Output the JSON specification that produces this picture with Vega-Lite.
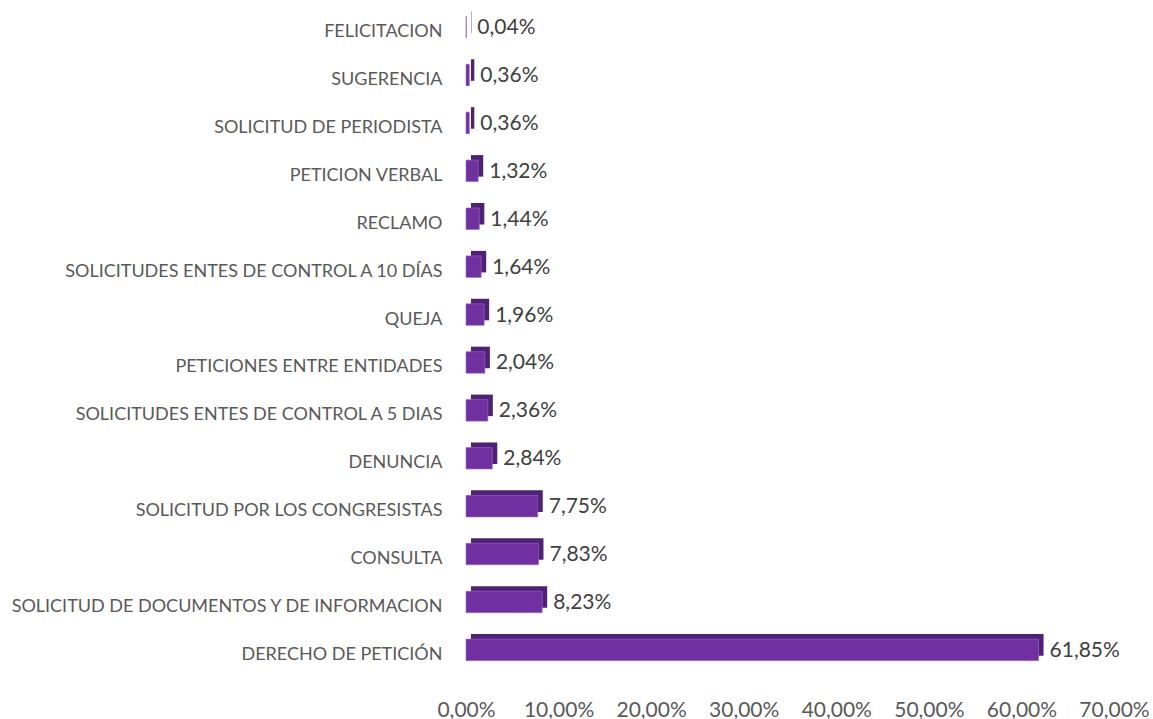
{
  "$schema": "https://vega.github.io/schema/vega-lite/v6.json",
  "width": 648,
  "height": 673,
  "autosize": {"type": "none"},
  "padding": {"left": 466, "top": 2, "right": 39, "bottom": 44},
  "background": "white",
  "config": {
    "view": {"stroke": null},
    "font": "Lato",
    "locale": {"number": {"decimal": ",", "thousands": ".", "grouping": [3], "currency": ["", " €"]}}
  },
  "data": {
    "values": [
      {"tipo": "FELICITACION", "valor": 0.0004},
      {"tipo": "SUGERENCIA", "valor": 0.0036},
      {"tipo": "SOLICITUD DE PERIODISTA", "valor": 0.0036},
      {"tipo": "PETICION VERBAL", "valor": 0.0132},
      {"tipo": "RECLAMO", "valor": 0.0144},
      {"tipo": "SOLICITUDES ENTES DE CONTROL A 10 DÍAS", "valor": 0.0164},
      {"tipo": "QUEJA", "valor": 0.0196},
      {"tipo": "PETICIONES ENTRE ENTIDADES", "valor": 0.0204},
      {"tipo": "SOLICITUDES ENTES DE CONTROL A 5 DIAS", "valor": 0.0236},
      {"tipo": "DENUNCIA", "valor": 0.0284},
      {"tipo": "SOLICITUD POR LOS CONGRESISTAS", "valor": 0.0775},
      {"tipo": "CONSULTA", "valor": 0.0783},
      {"tipo": "SOLICITUD DE DOCUMENTOS Y DE INFORMACION", "valor": 0.0823},
      {"tipo": "DERECHO DE PETICIÓN", "valor": 0.6185}
    ]
  },
  "encoding": {
    "y": {
      "field": "tipo",
      "type": "nominal",
      "sort": null,
      "scale": {"paddingInner": 0.55, "paddingOuter": 0.3},
      "axis": {
        "title": null,
        "domain": false,
        "ticks": false,
        "labelPadding": 24,
        "labelOffset": 5,
        "labelFontSize": 18,
        "labelColor": "#595959",
        "labelFont": "Lato",
        "labelLimit": 500
      }
    },
    "x": {
      "field": "valor",
      "type": "quantitative",
      "scale": {"domain": [0, 0.7], "nice": false},
      "axis": {
        "title": null,
        "format": ".2%",
        "values": [0, 0.1, 0.2, 0.3, 0.4, 0.5, 0.6, 0.7],
        "domain": false,
        "ticks": false,
        "grid": false,
        "labelPadding": 24,
        "labelFontSize": 21,
        "labelColor": "#595959",
        "labelFont": "Lato",
        "labelFlush": false
      }
    }
  },
  "layer": [
    {
      "mark": {"type": "bar", "color": "#4f2175", "xOffset": 5, "yOffset": -5}
    },
    {
      "mark": {"type": "bar", "color": "#7030a0", "stroke": "#9b6cc4", "strokeWidth": 0.6}
    },
    {
      "mark": {"type": "text", "align": "left", "baseline": "middle", "dx": 11, "dy": 1, "fontSize": 21, "color": "#404040", "font": "Lato"},
      "encoding": {"text": {"field": "valor", "type": "quantitative", "format": ".2%"}}
    }
  ]
}
